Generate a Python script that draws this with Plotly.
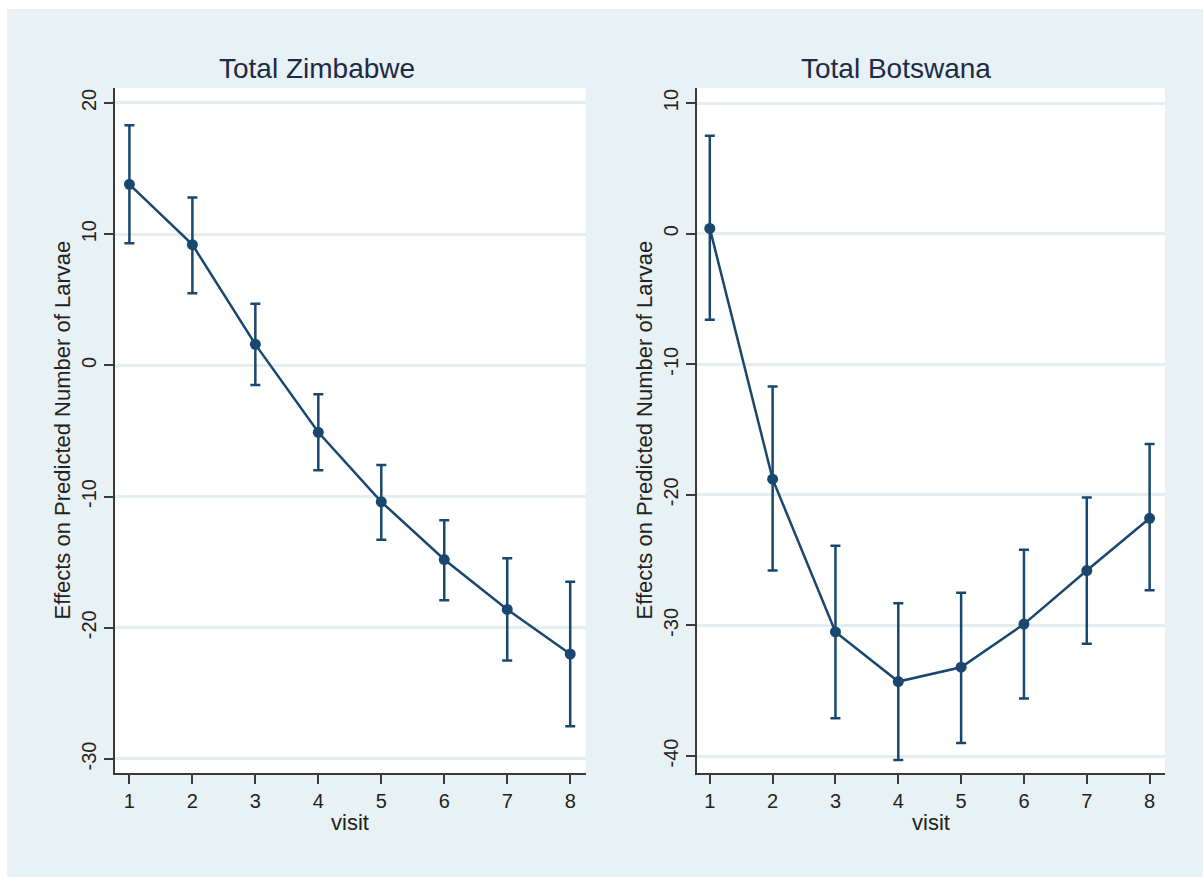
import plotly.graph_objects as go

# ---- data ----
visits = [1, 2, 3, 4, 5, 6, 7, 8]

zim_est = [13.8, 9.2, 1.6, -5.1, -10.4, -14.8, -18.6, -22.0]
zim_upper = [18.3, 12.8, 4.7, -2.2, -7.6, -11.8, -14.7, -16.5]
zim_lower = [9.3, 5.5, -1.5, -8.0, -13.3, -17.9, -22.5, -27.5]

bot_est = [0.4, -18.8, -30.5, -34.3, -33.2, -29.9, -25.8, -21.8]
bot_upper = [7.5, -11.7, -23.9, -28.3, -27.5, -24.2, -20.2, -16.1]
bot_lower = [-6.6, -25.8, -37.1, -40.3, -39.0, -35.6, -31.4, -27.3]

zim_yticks = [20, 10, 0, -10, -20, -30]
zim_ytext = ["20", "10", "0", "-10", "-20", "-30"]
bot_yticks = [10, 0, -10, -20, -30, -40]
bot_ytext = ["10", "0", "-10", "-20", "-30", "-40"]
xticks = [1, 2, 3, 4, 5, 6, 7, 8]
xtext = ["1", "2", "3", "4", "5", "6", "7", "8"]

titles = ["Total Zimbabwe", "Total Botswana"]
ytitle = "Effects on Predicted Number of Larvae"
xtitle = "visit"

# ---- style ----
W, H = 1203, 877
NAVY = "#1a476f"
BG = "#e8f1f3"
GRID = "#e4eef1"
AXIS = "#3a3a3a"
FONT = "Arial, Liberation Sans, sans-serif"


def px(x):
    return x / W


def py(y):
    return 1 - y / H


fig = go.Figure()


def add_series(est, lo, hi, xa, ya):
    fig.add_trace(go.Scatter(
        x=visits, y=est, xaxis=xa, yaxis=ya, mode="lines+markers",
        line=dict(color=NAVY, width=2.5),
        marker=dict(color=NAVY, size=11, symbol="circle"),
        error_y=dict(type="data", symmetric=False,
                     array=[h - e for h, e in zip(hi, est)],
                     arrayminus=[e - l for e, l in zip(est, lo)],
                     color=NAVY, thickness=2.5, width=5),
        showlegend=False, hoverinfo="skip",
    ))


add_series(zim_est, zim_lower, zim_upper, "x", "y")
add_series(bot_est, bot_lower, bot_upper, "x2", "y2")

common_x = dict(
    tickmode="array", tickvals=xticks, ticktext=xtext,
    showgrid=False, zeroline=False, showline=True, linecolor=AXIS, linewidth=2,
    ticks="outside", ticklen=9, tickwidth=2, tickcolor=AXIS,
    tickfont=dict(family=FONT, size=20, color="#222222"),
)
common_y = dict(
    showgrid=True, gridcolor=GRID, gridwidth=3, zeroline=False,
    showline=True, linecolor=AXIS, linewidth=2,
    ticks="outside", ticklen=9, tickwidth=2, tickcolor=AXIS, tickangle=-90,
    tickfont=dict(family=FONT, size=20, color="#222222"),
)

fig.update_layout(
    width=W, height=H,
    margin=dict(l=0, r=0, t=0, b=0),
    paper_bgcolor=BG,
    plot_bgcolor="white",
    xaxis=dict(domain=[px(114.8), px(585.5)], range=[0.768, 8.243], anchor="y", **common_x),
    yaxis=dict(domain=[py(773), py(88)], range=[-31.07, 21.14], anchor="x",
               tickmode="array", tickvals=zim_yticks, ticktext=zim_ytext, **common_y),
    xaxis2=dict(domain=[px(696.8), px(1165)], range=[0.793, 8.245], anchor="y2", **common_x),
    yaxis2=dict(domain=[py(773), py(88)], range=[-41.3, 11.15], anchor="x2",
                tickmode="array", tickvals=bot_yticks, ticktext=bot_ytext, **common_y),
    shapes=[
        dict(type="rect", xref="paper", yref="paper", layer="below",
             x0=0, x1=1, y0=py(9), y1=1, fillcolor="white", line=dict(width=0)),
        dict(type="rect", xref="paper", yref="paper", layer="below",
             x0=0, x1=px(7), y0=0, y1=1, fillcolor="white", line=dict(width=0)),
    ],
)

annos = []
for t, cx in zip(titles, [317, 896]):
    annos.append(dict(text=t, x=px(cx), y=py(68), xref="paper", yref="paper",
                      showarrow=False, xanchor="center", yanchor="middle",
                      font=dict(family=FONT, size=28, color="#1c2b48")))
for cx in [350.1, 930.9]:
    annos.append(dict(text=xtitle, x=px(cx), y=py(822), xref="paper", yref="paper",
                      showarrow=False, xanchor="center", yanchor="middle",
                      font=dict(family=FONT, size=22, color="#222222")))
for cx in [62, 644]:
    annos.append(dict(text=ytitle, x=px(cx), y=py(430.5), xref="paper", yref="paper",
                      showarrow=False, xanchor="center", yanchor="middle", textangle=-90,
                      font=dict(family=FONT, size=22, color="#222222")))
fig.update_layout(annotations=annos)

fig.write_html("out.html")
